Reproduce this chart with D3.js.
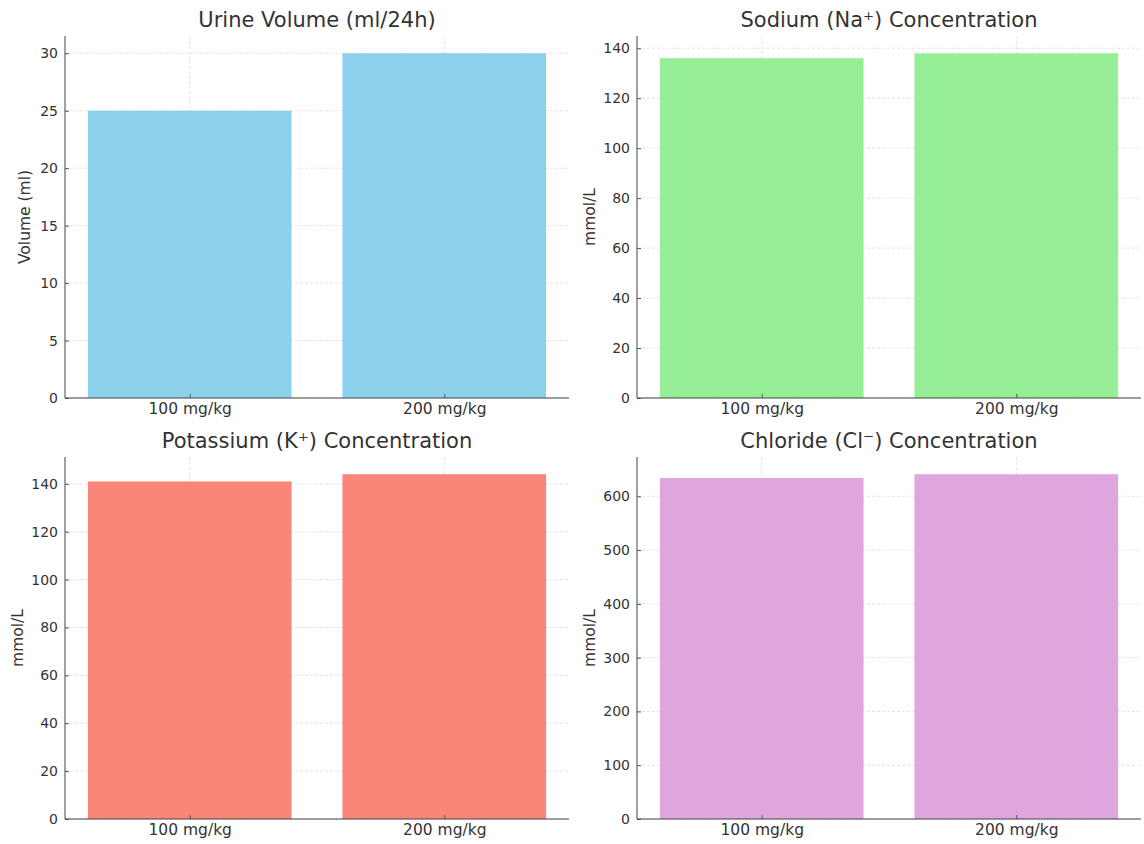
<!DOCTYPE html>
<html>
<head>
<meta charset="utf-8">
<script src="https://cdn.jsdelivr.net/npm/d3@7"></script>
<style>
  html, body { margin: 0; padding: 0; background: #fff; }
  svg { display: block; font-family: "DejaVu Sans", sans-serif; }
</style>
</head>
<body>
<svg id="fig" width="1144" height="844"></svg>
<script>
// Doses given
const doses = ["100 mg/kg", "200 mg/kg"];

// Measured values per dose
const urineVolume = [25, 30];
const sodium = [136, 138];
const potassium = [141, 144];
const chloride = [634, 641];

// Y tick values per panel
const urineTicks = [0, 5, 10, 15, 20, 25, 30];
const sodiumTicks = [0, 20, 40, 60, 80, 100, 120, 140];
const potassiumTicks = [0, 20, 40, 60, 80, 100, 120, 140];
const chlorideTicks = [0, 100, 200, 300, 400, 500, 600];

const panels = [
  { title: "Urine Volume (ml/24h)", ylabel: "Volume (ml)", values: urineVolume, ticks: urineTicks, color: "#87CEEB", col: 0, row: 0 },
  { title: "Sodium (Na\u207A) Concentration", ylabel: "mmol/L", values: sodium, ticks: sodiumTicks, color: "#90EE90", col: 1, row: 0 },
  { title: "Potassium (K\u207A) Concentration", ylabel: "mmol/L", values: potassium, ticks: potassiumTicks, color: "#FA8072", col: 0, row: 1 },
  { title: "Chloride (Cl\u207B) Concentration", ylabel: "mmol/L", values: chloride, ticks: chlorideTicks, color: "#DDA0DD", col: 1, row: 1 }
];

const svg = d3.select("#fig");
const colX = [65, 637];
const rowY = [[36, 398], [457, 819]];
const plotW = 504;

panels.forEach(p => {
  const x0 = colX[p.col];
  const [top, bottom] = rowY[p.row];
  const g = svg.append("g");

  const x = d3.scaleLinear().domain([-0.49, doses.length - 1 + 0.49]).range([x0, x0 + plotW]);
  const y = d3.scaleLinear().domain([0, d3.max(p.values) * 1.05]).range([bottom, top]);

  // grid
  const grid = g.append("g").attr("stroke", "#dcdcdc").attr("stroke-width", 0.8).attr("stroke-dasharray", "3,2");
  grid.selectAll("line.h").data(p.ticks).join("line")
    .attr("x1", x0).attr("x2", x0 + plotW)
    .attr("y1", d => y(d)).attr("y2", d => y(d));
  grid.selectAll("line.v").data(doses).join("line")
    .attr("x1", (d, i) => x(i)).attr("x2", (d, i) => x(i))
    .attr("y1", top).attr("y2", bottom);

  // bars
  g.selectAll("rect").data(p.values).join("rect")
    .attr("x", (d, i) => x(i - 0.4))
    .attr("width", (d, i) => x(i + 0.4) - x(i - 0.4))
    .attr("y", d => y(d))
    .attr("height", d => bottom - y(d))
    .attr("fill", p.color)
    .attr("fill-opacity", 0.95);

  // y axis
  const yAxis = d3.axisLeft(y).tickValues(p.ticks).tickSizeInner(-4).tickSizeOuter(0).tickPadding(7);
  const ya = g.append("g").attr("transform", `translate(${x0},0)`).call(yAxis);
  ya.select(".domain").attr("stroke", "#444").attr("d", `M0,${top}V${bottom}`);
  ya.selectAll(".tick line").attr("stroke", "#555");
  ya.selectAll(".tick text").attr("fill", "#333").style("font-size", "14px").style("font-family", "DejaVu Sans, sans-serif");

  // x axis
  const xAxis = d3.axisBottom(x).tickValues(doses.map((d, i) => i)).tickFormat(i => doses[i])
    .tickSizeInner(-4).tickSizeOuter(0).tickPadding(5);
  const xa = g.append("g").attr("transform", `translate(0,${bottom})`).call(xAxis);
  xa.select(".domain").attr("stroke", "#444").attr("d", `M${x0},0H${x0 + plotW}`);
  xa.selectAll(".tick line").attr("stroke", "#555");
  xa.selectAll(".tick text").attr("fill", "#333").style("font-size", "15.5px").style("font-family", "DejaVu Sans, sans-serif");

  // title
  g.append("text")
    .attr("x", x0 + plotW / 2).attr("y", top - 9)
    .attr("text-anchor", "middle")
    .attr("fill", "#333").style("font-size", "21px")
    .text(p.title);

  // y label
  const maxLen = d3.max(p.ticks, t => String(t).length);
  const off = maxLen >= 3 ? 47 : 40;
  g.append("text")
    .attr("transform", `translate(${x0 - off + 5},${(top + bottom) / 2}) rotate(-90)`)
    .attr("text-anchor", "middle")
    .attr("fill", "#333").style("font-size", "15.5px")
    .text(p.ylabel);
});
</script>
</body>
</html>
